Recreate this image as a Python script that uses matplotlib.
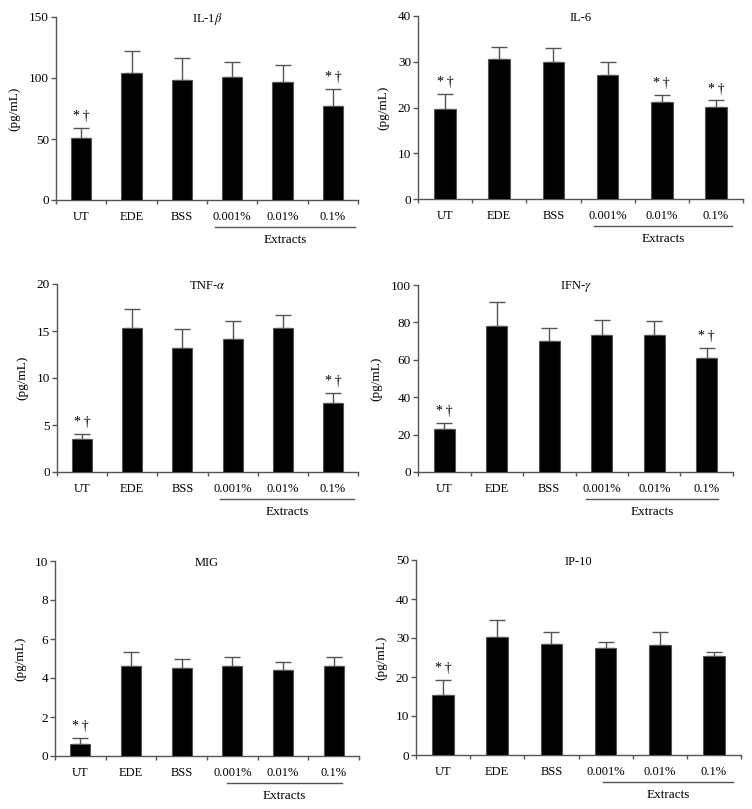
import numpy as np
import matplotlib.pyplot as plt
from matplotlib import transforms

plt.rcParams['font.family'] = ['Liberation Serif', 'DejaVu Serif']
plt.rcParams['mathtext.fontset'] = 'stix'

groups = ['UT', 'EDE', 'BSS', '0.001%', '0.01%', '0.1%']

titles = ['IL-1$\\beta$', 'IL-6', 'TNF-$\\alpha$', 'IFN-$\\gamma$', 'MIG', 'IP-10']
ymax = [150, 40, 20, 100, 10, 50]
ystep = [50, 10, 5, 20, 2, 10]

il1b = [51, 104, 98, 101, 97, 77]
il1b_err = [8, 18, 18, 12, 14, 14]
il6 = [19.6, 30.5, 29.9, 27.2, 21.2, 20.1]
il6_err = [3.4, 2.7, 3.2, 2.8, 1.6, 1.5]
tnf = [3.5, 15.3, 13.2, 14.2, 15.3, 7.3]
tnf_err = [0.55, 2.0, 2.0, 1.9, 1.4, 1.15]
ifn = [23.1, 78.1, 70.1, 73.1, 73.1, 61.2]
ifn_err = [3.2, 13.0, 6.8, 8.2, 7.8, 5.3]
mig = [0.63, 4.62, 4.52, 4.62, 4.42, 4.62]
mig_err = [0.29, 0.69, 0.48, 0.48, 0.39, 0.48]
ip10 = [15.5, 30.2, 28.5, 27.4, 28.2, 25.3]
ip10_err = [3.8, 4.3, 3.1, 1.7, 3.4, 1.2]

values = [il1b, il6, tnf, ifn, mig, ip10]
errors = [il1b_err, il6_err, tnf_err, ifn_err, mig_err, ip10_err]
# which bars get the "*†" mark
marked = [[0, 5], [0, 4, 5], [0, 5], [0, 5], [0], [0]]
# x-span of the "Extracts" underline, in category units
extract_span = [(2.66, 5.45), (2.75, 5.3), (2.75, 5.42), (2.7, 5.21), (2.89, 5.16), (2.95, 5.35)]

# axes boxes in pixels: left, right, top, bottom
boxes = [(56, 358, 17, 200), (418, 743, 16, 199),
         (57, 358, 284, 472), (418, 733, 285, 472),
         (55, 359, 561, 756), (416, 741, 560, 755)]

W, H = 752, 809
fig = plt.figure(figsize=(W / 100, H / 100), dpi=100)
gray = '#555555'

for i in range(6):
    l, r, t, b = boxes[i]
    ax = fig.add_axes([l / W, (H - b) / H, (r - l) / W, (b - t) / H])
    x = np.arange(len(groups))
    n = len(groups)
    ax.bar(x, values[i], width=0.4, color='black', edgecolor=gray, linewidth=0.8, zorder=3)
    ax.errorbar(x, values[i], yerr=[[0] * n, errors[i]], fmt='none', ecolor=gray,
                elinewidth=1.0, capsize=5.5, capthick=1.0, zorder=2)
    for j in marked[i]:
        ax.annotate('*\u2009\u2020', (x[j], values[i][j] + errors[i][j]), xytext=(0, 8),
                    textcoords='offset points', ha='center', va='center', fontsize=10)

    ax.set_xlim(-0.5, n - 0.5)
    ax.set_ylim(0, ymax[i])
    ax.set_yticks(np.arange(0, ymax[i] + ystep[i] / 2, ystep[i]))
    ax.set_xticks(np.arange(-0.5, n, 1.0))
    ax.set_xticklabels([])
    ax.set_xticks(x, minor=True)
    ax.set_xticklabels(groups, minor=True)
    ax.tick_params(axis='x', which='minor', length=0, pad=8, labelsize=9)
    ax.tick_params(axis='x', which='major', length=3, color=gray, width=1.0)
    ax.tick_params(axis='y', length=3.5, color=gray, width=1.0, labelsize=9.5, pad=1.5)
    for s in ['top', 'right']:
        ax.spines[s].set_visible(False)
    for s in ['left', 'bottom']:
        ax.spines[s].set_color(gray)
        ax.spines[s].set_linewidth(1.0)

    ax.set_ylabel('(pg/mL)', fontsize=9.5, labelpad=6)
    ax.text(0.5, 0.99, titles[i], transform=ax.transAxes, ha='center', va='center', fontsize=9)

    trans = transforms.blended_transform_factory(ax.transData, ax.transAxes)
    hpx = b - t
    x0, x1 = extract_span[i]
    ax.plot([x0, x1], [-27 / hpx, -27 / hpx], color=gray, linewidth=1.0,
            transform=trans, clip_on=False)
    ax.text((x0 + x1) / 2, -40 / hpx, 'Extracts', transform=trans, ha='center',
            va='center', fontsize=9.5)

fig.savefig('out.png', dpi=100)
